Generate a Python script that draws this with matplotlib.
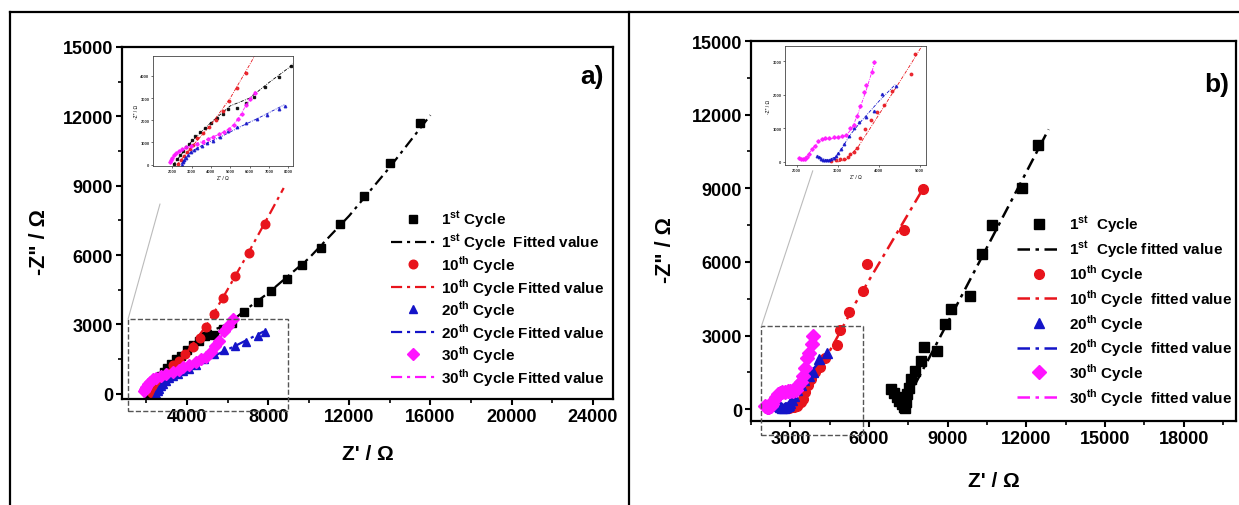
import matplotlib
matplotlib.use("Agg")
import matplotlib.pyplot as plt
from matplotlib.patches import Rectangle, ConnectionPatch
from matplotlib.ticker import MultipleLocator

plt.rcParams['font.family'] = ['Liberation Sans', 'DejaVu Sans']
plt.rcParams['font.weight'] = 'bold'
plt.rcParams['mathtext.fontset'] = 'custom'
plt.rcParams['mathtext.bf'] = 'Liberation Sans:bold'
plt.rcParams['mathtext.rm'] = 'Liberation Sans:bold'

# ---------------- panel a) data ----------------
a_c1_x = [2100, 2250, 2400, 2550, 2700, 2850, 3000, 3200, 3450, 3700, 4000, 4300, 4600, 4900, 5350, 5800,
          6230, 6815, 7500, 8140, 8910, 9690, 10620, 11560, 12710, 14000, 15510]
a_c1_y = [50, 250, 420, 600, 780, 950, 1100, 1280, 1480, 1650, 1880, 2100, 2300, 2500, 2550, 2800,
          3045, 3520, 3975, 4450, 4950, 5570, 6320, 7360, 8540, 9980, 11700]
a_f1_x = [2050, 3000, 4000, 5000, 6000, 7000, 8000, 10000, 12000, 14000, 16000]
a_f1_y = [0, 1050, 1900, 2650, 3000, 3700, 4350, 5850, 7700, 9800, 12050]

a_c10_x = [2300, 2450, 2600, 2750, 2900, 3050, 3300, 3600, 3890, 4280, 4630, 4960, 5350, 5800, 6370, 7050, 7830]
a_c10_y = [50, 200, 380, 550, 720, 880, 1220, 1430, 1720, 2010, 2400, 2870, 3450, 4120, 5100, 6100, 7360]
a_f10_x = [2250, 3000, 4000, 5000, 6000, 7000, 8000, 8770]
a_f10_y = [0, 800, 1800, 3000, 4500, 6050, 7650, 8900]

a_c20_x = [2500, 2550, 2600, 2700, 2800, 2950, 3100, 3300, 3550, 3800, 4100, 4450, 4860, 5350, 5840, 6390,
           6910, 7500, 7830]
a_c20_y = [0, 100, 200, 320, 440, 560, 660, 760, 860, 960, 1080, 1260, 1500, 1700, 1900, 2080, 2250, 2490, 2660]
a_f20_x = [2450, 2700, 3000, 3500, 4500, 5500, 6500, 7800]
a_f20_y = [0, 350, 600, 850, 1250, 1700, 2120, 2700]

a_c30_x = [1900, 1950, 2000, 2100, 2200, 2350, 2500, 2700, 2950, 3300, 3600, 3830, 4100, 4440, 4700, 4960,
           5200, 5390, 5600, 5830, 6000, 6260]
a_c30_y = [100, 200, 300, 420, 520, 630, 700, 780, 850, 930, 1040, 1150, 1260, 1380, 1480, 1600, 1800, 2050,
           2300, 2700, 2950, 3250]
a_f30_x = [1900, 2000, 2200, 2500, 3000, 3800, 4500, 5000, 5400, 5800, 6300]
a_f30_y = [80, 300, 520, 700, 860, 1140, 1400, 1650, 2050, 2650, 3320]

# ---------------- panel b) data ----------------
b_c1_x = [6850, 6950, 7050, 7150, 7250, 7330, 7380, 7400, 7450, 7520, 7600, 7750, 7980, 8100, 8580, 8910,
          9110, 9860, 10320, 10690, 11820, 12430]
b_c1_y = [820, 650, 500, 350, 200, 100, 60, 300, 600, 850, 1220, 1560, 1970, 2550, 2380, 3460, 4070, 4620,
          6310, 7500, 9030, 10770]
b_f1_x = [7300, 7700, 8300, 9500, 10700, 11900, 12850]
b_f1_y = [0, 900, 2100, 4550, 7000, 9450, 11400]

b_c10_x = [2850, 2950, 3050, 3150, 3250, 3300, 3400, 3470, 3550, 3670, 3800, 3950, 4130, 4320, 4780, 4880,
           5230, 5760, 5940, 7330, 8050]
b_c10_y = [30, 50, 80, 100, 150, 230, 300, 430, 700, 980, 1250, 1500, 1700, 2100, 2620, 3220, 3940, 4820,
           5930, 7300, 8990]
b_f10_x = [3000, 3200, 3500, 4000, 4800, 5500, 6500, 7300, 8100]
b_f10_y = [0, 60, 450, 1400, 2950, 4350, 6150, 7600, 9050]

b_c20_x = [2500, 2550, 2600, 2650, 2700, 2750, 2800, 2850, 2900, 2950, 3000, 3080, 3150, 3270, 3400, 3520,
           3700, 3880, 4080, 4410]
b_c20_y = [190, 140, 100, 70, 60, 60, 70, 90, 130, 180, 260, 380, 530, 780, 1000, 1180, 1350, 1530, 2030, 2270]
b_f20_x = [2550, 2750, 2950, 3100, 3300, 3600, 4000, 4400]
b_f20_y = [150, 50, 150, 400, 800, 1250, 1800, 2300]

b_c30_x = [2050, 2100, 2150, 2200, 2250, 2300, 2370, 2450, 2530, 2620, 2700, 2800, 2900, 3000, 3100, 3200,
           3310, 3390, 3470, 3550, 3630, 3700, 3840, 3880]
b_c30_y = [130, 100, 80, 90, 150, 230, 380, 480, 620, 680, 700, 720, 730, 740, 760, 800, 1000, 1100, 1370,
           1670, 2070, 2300, 2670, 2970]
b_f30_x = [2050, 2150, 2300, 2450, 2600, 2800, 3000, 3200, 3350, 3500, 3700, 3900]
b_f30_y = [120, 70, 250, 500, 650, 680, 720, 780, 1000, 1450, 2150, 2950]

# legend labels as printed in each panel
a_labels = ['1$^{\\mathbf{st}}$ Cycle', '1$^{\\mathbf{st}}$ Cycle  Fitted value',
            '10$^{\\mathbf{th}}$ Cycle', '10$^{\\mathbf{th}}$ Cycle Fitted value',
            '20$^{\\mathbf{th}}$ Cycle', '20$^{\\mathbf{th}}$ Cycle Fitted value',
            '30$^{\\mathbf{th}}$ Cycle', '30$^{\\mathbf{th}}$ Cycle Fitted value']
b_labels = ['1$^{\\mathbf{st}}$  Cycle', '1$^{\\mathbf{st}}$  Cycle fitted value',
            '10$^{\\mathbf{th}}$ Cycle', '10$^{\\mathbf{th}}$ Cycle  fitted value',
            '20$^{\\mathbf{th}}$ Cycle', '20$^{\\mathbf{th}}$ Cycle  fitted value',
            '30$^{\\mathbf{th}}$ Cycle', '30$^{\\mathbf{th}}$ Cycle  fitted value']

colors = ['#000000', '#e8141c', '#1414c8', '#ff14ff']
markers = ['s', 'o', '^', 'D']

a_series = [(a_c1_x, a_c1_y, a_f1_x, a_f1_y), (a_c10_x, a_c10_y, a_f10_x, a_f10_y),
            (a_c20_x, a_c20_y, a_f20_x, a_f20_y), (a_c30_x, a_c30_y, a_f30_x, a_f30_y)]
b_series = [(b_c1_x, b_c1_y, b_f1_x, b_f1_y), (b_c10_x, b_c10_y, b_f10_x, b_f10_y),
            (b_c20_x, b_c20_y, b_f20_x, b_f20_y), (b_c30_x, b_c30_y, b_f30_x, b_f30_y)]

dashdot = (0, (5, 2.2, 1.4, 2.2))

W, H = 1239, 506
fig = plt.figure(figsize=(W / 100, H / 100), dpi=100)


def fx(px):
    return px / W


def fy(py):
    return 1 - py / H


def style_main(ax, xmaj, ymaj):
    for s in ax.spines.values():
        s.set_linewidth(1.6)
    ax.xaxis.set_major_locator(MultipleLocator(xmaj))
    ax.xaxis.set_minor_locator(MultipleLocator(xmaj / 2))
    ax.yaxis.set_major_locator(MultipleLocator(ymaj))
    ax.yaxis.set_minor_locator(MultipleLocator(ymaj / 2))
    ax.tick_params(which='major', direction='out', length=4.5, width=1.5, labelsize=13, pad=2)
    ax.tick_params(which='minor', direction='out', length=3, width=1.2)
    for lab in ax.get_xticklabels() + ax.get_yticklabels():
        lab.set_fontweight('bold')


def style_inset(ax, xmaj, ymaj):
    for s in ax.spines.values():
        s.set_linewidth(0.6)
        s.set_color('#444444')
    ax.xaxis.set_major_locator(MultipleLocator(xmaj))
    ax.yaxis.set_major_locator(MultipleLocator(ymaj))
    ax.tick_params(direction='out', length=1.5, width=0.5, labelsize=3, pad=1, colors='#333333')


def draw_panel(ax, series, labels, ms, lw):
    handles = []
    for i, (x, y, xf, yf) in enumerate(series):
        pts, = ax.plot(x, y, linestyle='none', marker=markers[i], color=colors[i], markersize=ms,
                       label=labels[2 * i])
        fit, = ax.plot(xf, yf, linestyle=dashdot, color=colors[i], linewidth=lw,
                       label=labels[2 * i + 1])
        handles += [pts, fit]
    return handles


def draw_inset(ax, series):
    for i, (x, y, xf, yf) in enumerate(series):
        ax.plot(x, y, linestyle='none', marker=markers[i], color=colors[i], markersize=1.8, alpha=0.85)
        ax.plot(xf, yf, linestyle=(0, (4, 1.5, 1, 1.5)), color=colors[i], linewidth=0.6)


# ---------------- panel a ----------------
axa = fig.add_axes([fx(122), fy(400), fx(613 - 122), (400 - 48) / H])
ha = draw_panel(axa, a_series, a_labels, 6.2, 1.6)
axa.set_xlim(800, 25000)
axa.set_ylim(-230, 15000)
style_main(axa, 4000, 3000)
axa.text(0.5, -0.156, "Z' / Ω", transform=axa.transAxes, ha='center', va='center', fontsize=15,
         fontweight='bold')
axa.text(-0.168, 0.45, '-Z" / Ω', transform=axa.transAxes, ha='center', va='center', rotation=90,
         fontsize=15.5, fontweight='bold')
axa.text(0.957, 0.918, 'a)', transform=axa.transAxes, ha='center', va='center', fontsize=19,
         fontweight='bold')
axa.add_patch(Rectangle((1100, -730), 9000 - 1100, 3230 + 730, fill=False, linestyle='--',
                        linewidth=1.0, edgecolor='#555555', clip_on=False, zorder=5))
la = axa.legend(handles=ha, loc='upper left', bbox_to_anchor=(fx(391), fy(210)),
                bbox_transform=fig.transFigure, frameon=False, fontsize=11, borderpad=0,
                borderaxespad=0, handlelength=2.9, handletextpad=0.4, labelspacing=0.06)
for t in la.get_texts():
    t.set_fontweight('bold')

insa = fig.add_axes([fx(153), fy(167), fx(293 - 153), (167 - 57) / H])
draw_inset(insa, a_series)
insa.set_xlim(1000, 8250)
insa.set_ylim(-60, 4900)
style_inset(insa, 1000, 1000)
insa.set_xticks([2000, 3000, 4000, 5000, 6000, 7000, 8000])
insa.set_xlabel("Z' / Ω", fontsize=3.5, labelpad=1)
insa.set_ylabel('-Z" / Ω', fontsize=3.5, labelpad=1)
fig.add_artist(ConnectionPatch(xyA=(1100, 3230), coordsA=axa.transData, xyB=(0.05, -0.345),
                               coordsB=insa.transAxes, color='#bbbbbb', linewidth=0.8))

# ---------------- panel b ----------------
axb = fig.add_axes([fx(751), fy(422), fx(1236 - 751), (422 - 42) / H])
hb = draw_panel(axb, b_series, b_labels, 7.0, 1.8)
axb.set_xlim(1500, 20000)
axb.set_ylim(-480, 15000)
style_main(axb, 3000, 3000)
axb.text(0.5, -0.157, "Z' / Ω", transform=axb.transAxes, ha='center', va='center', fontsize=15,
         fontweight='bold')
axb.text(-0.177, 0.4526, '-Z" / Ω', transform=axb.transAxes, ha='center', va='center', rotation=90,
         fontsize=15.5, fontweight='bold')
axb.text(0.961, 0.887, 'b)', transform=axb.transAxes, ha='center', va='center', fontsize=19,
         fontweight='bold')
axb.add_patch(Rectangle((1900, -1060), 5760 - 1900, 3390 + 1060, fill=False, linestyle='--',
                        linewidth=1.0, edgecolor='#555555', clip_on=False, zorder=5))
lb = axb.legend(handles=hb, loc='upper left', bbox_to_anchor=(fx(1017), fy(215)),
                bbox_transform=fig.transFigure, frameon=False, fontsize=11, borderpad=0,
                borderaxespad=0, handlelength=2.9, handletextpad=0.5, labelspacing=0.2)
for t in lb.get_texts():
    t.set_fontweight('bold')

insb = fig.add_axes([fx(785), fy(166), fx(926 - 785), (166 - 47) / H])
draw_inset(insb, b_series)
insb.set_xlim(1720, 5150)
insb.set_ylim(-90, 3450)
style_inset(insb, 1000, 1000)
insb.set_xlabel("Z' / Ω", fontsize=3.5, labelpad=1)
insb.set_ylabel('-Z" / Ω', fontsize=3.5, labelpad=1)
fig.add_artist(ConnectionPatch(xyA=(1900, 3390), coordsA=axb.transData, xyB=(0.197, -0.048),
                               coordsB=insb.transAxes, color='#bbbbbb', linewidth=0.8))

# outer frame and divider
for (x0, y0, x1, y1) in [(10, 13, 1239, 13), (10, 13, 10, 506), (629, 13, 629, 506)]:
    fig.add_artist(plt.Line2D([fx(x0), fx(x1)], [fy(y0), fy(y1)], color='black', linewidth=1.6,
                              transform=fig.transFigure))

fig.savefig('out.png', dpi=100)
